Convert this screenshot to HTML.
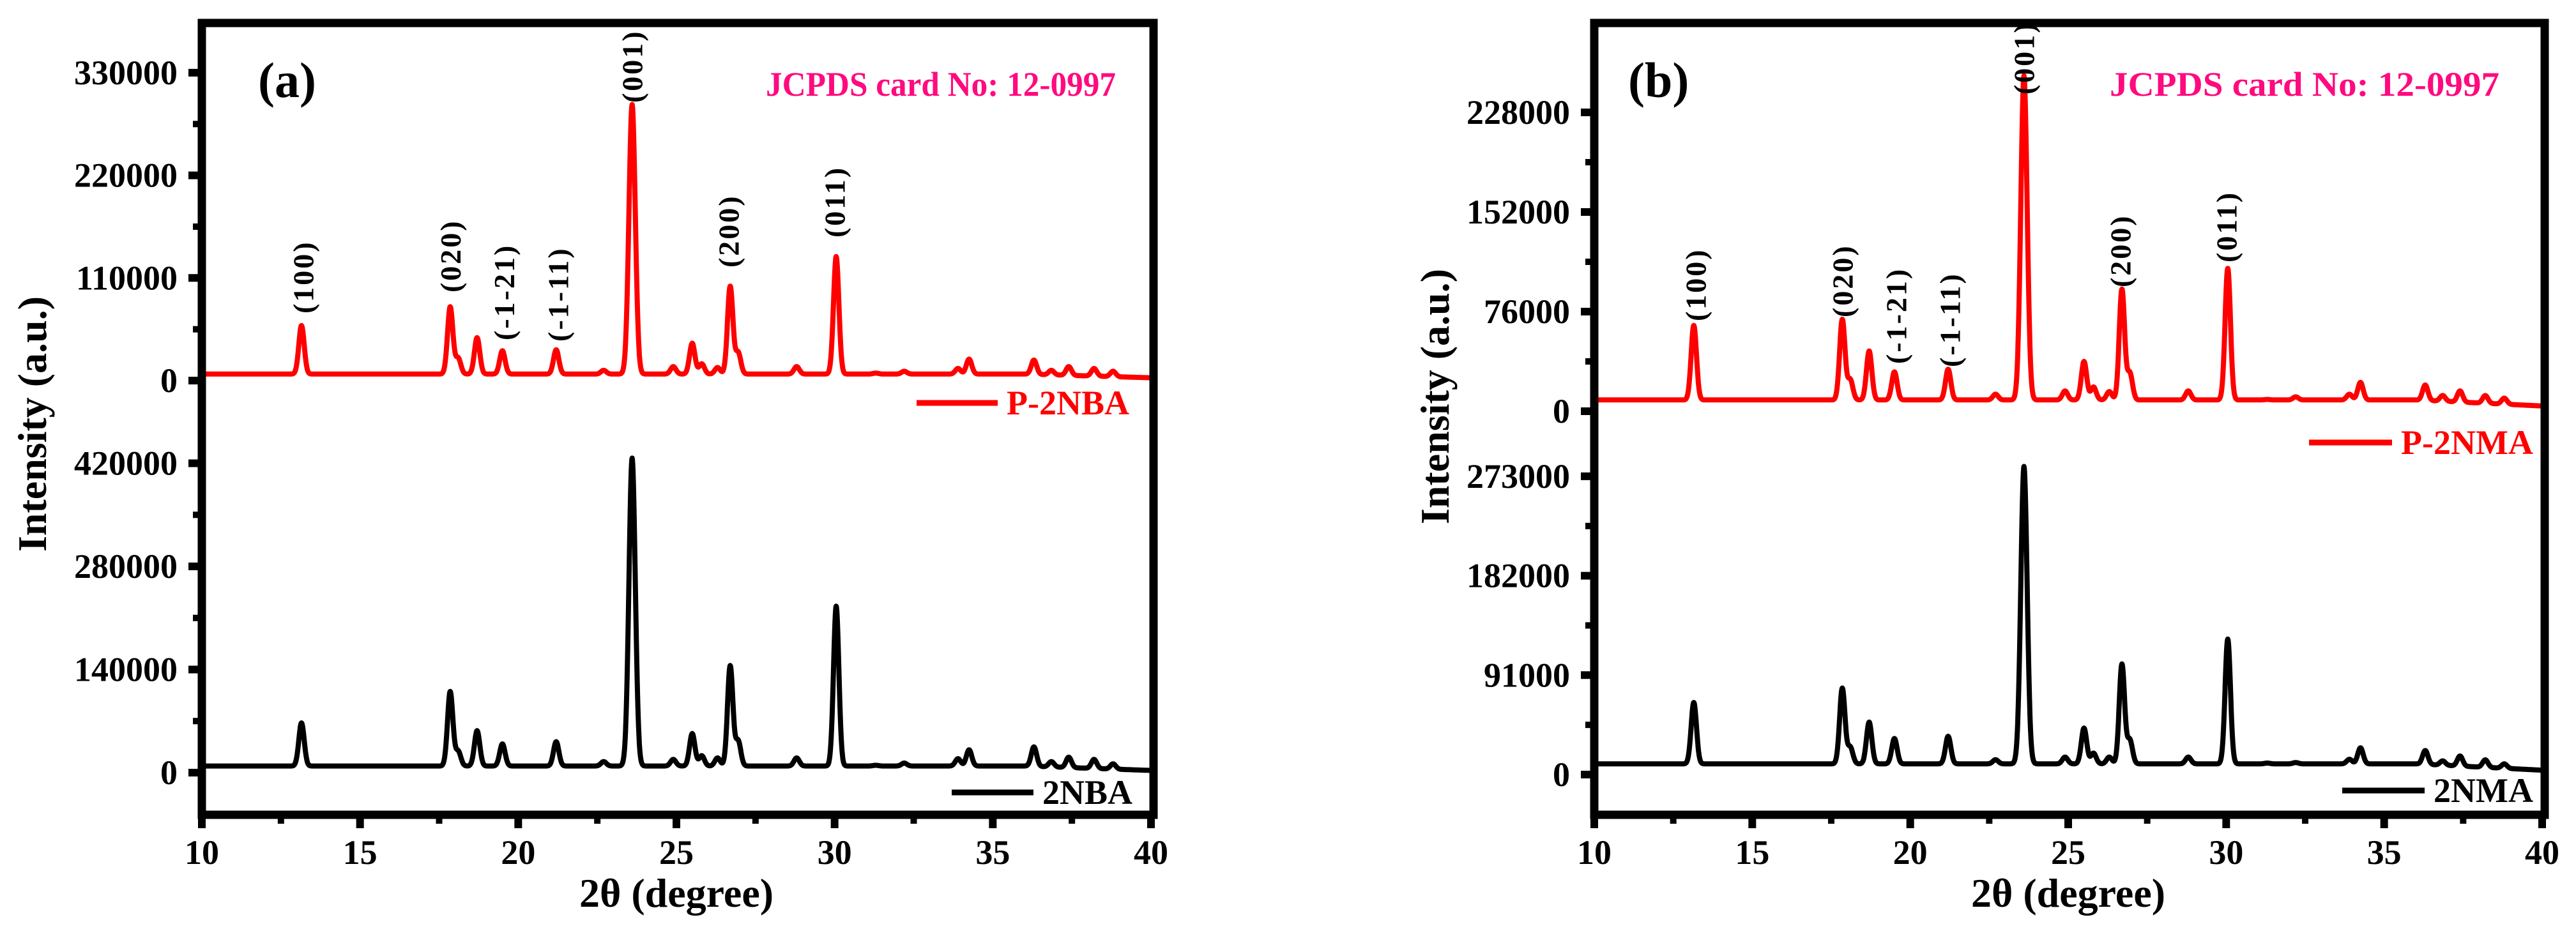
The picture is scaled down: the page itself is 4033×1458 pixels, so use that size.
<!DOCTYPE html>
<html><head><meta charset="utf-8"><style>
html,body{margin:0;padding:0;background:#fff;}
svg{display:block;}
text{font-family:"Liberation Serif",serif;font-weight:bold;}
</style></head><body>
<svg id="chart" width="4033" height="1458" viewBox="0 0 4033 1458" xmlns="http://www.w3.org/2000/svg"></svg>
<script>
// ---- data (peak positions in 2θ, intensity counts) ----
const peakPos = [13.15,17.85,18.1,18.7,19.5,21.2,22.7,23.6,24.9,25.5,25.8,26.3,26.7,26.95,28.8,30.05,31.3,32.2,33.9,34.25,36.3,36.85,37.4,38.2,38.8];
const p2nbaPeaks = [59000,79000,24000,46000,32000,33000,11000,296000,15000,40000,18000,14000,101000,30000,15000,133000,8000,10000,13000,23000,22000,11000,15000,13000,10000];
const p2nbaBase = [7000,3000];
const nbaPeaks = [67500,110000,29000,57000,39000,42000,15000,427000,18000,53000,23000,20000,145000,43000,20000,226000,10000,13000,19000,31000,35000,15000,21000,18000,12000];
const nbaBase = [9000,3000];
const p2nmaPeaks = [65500,70000,24000,46000,30000,32000,13000,256000,15500,38000,18500,15000,93000,29000,15500,109000,9000,11000,13000,22000,20000,12000,15500,12000,10000];
const p2nmaBase = [8600,4000];
const nmaPeaks = [66000,79000,25000,48000,33000,35000,13600,282000,16000,42500,19600,16000,101000,31600,16000,124000,10500,11000,14000,24500,22000,12500,17000,13500,9800];
const nmaBase = [9800,4000];
const xTicks = [10,15,20,25,30,35,40];
const aTopTicks = [0,110000,220000,330000];
const aBotTicks = [0,140000,280000,420000];
const bTopTicks = [0,76000,152000,228000];
const bBotTicks = [0,91000,182000,273000];
const millerLabels = ["(100)","(020)","(-1-21)","(-1-11)","(001)","(200)","(011)"];
const millerPos = [13.2,17.85,19.55,21.25,23.6,26.65,30.0];
const aMillerBottom = [491,458,533,535,161,419,372];
const bMillerBottom = [503,497,570,575,148,450,411];

const NS="http://www.w3.org/2000/svg";
const svg=document.getElementById('chart');
function el(tag,attrs,parent){const e=document.createElementNS(NS,tag);for(const k in attrs)e.setAttribute(k,attrs[k]);(parent||svg).appendChild(e);return e;}

function panel(cfg){
  const g=el('g',{});
  
  
  const xs=v=>cfg.x0+(v-10)*(cfg.x1-cfg.x0)/30;
  const yT=v=>cfg.topZero-v*cfg.topScale;
  const yB=v=>cfg.botZero-v*cfg.botScale;
  function series(peaks,base,ys,color,name){
    let d='';
    for(let x=10;x<=40.0001;x+=0.01){
      const b=base[0]+(base[1]-base[0])*Math.max(0,(x-36)/4);
      let v=b;
      for(let i=0;i<peakPos.length;i++){
        const w=(peakPos[i]===23.6)?0.1:0.085;
        const dx=(x-peakPos[i])/w;
        v+=(peaks[i]-b)*Math.exp(-0.5*dx*dx);
      }
      d+=(d?'L':'M')+xs(x).toFixed(1)+','+ys(v).toFixed(1);
    }
    const p=el('path',{d:d,fill:'none',stroke:color,'stroke-width':8,'stroke-linejoin':'round'},g);
    
    
  }
  series(cfg.topPeaks,cfg.topBase,yT,'#ff0000',cfg.topName+'-line');
  series(cfg.botPeaks,cfg.botBase,yB,'#000000',cfg.botName+'-line');
  const fr=el('rect',{x:cfg.x0,y:36,width:cfg.x1-cfg.x0+4,height:1276-36,fill:'none',stroke:'#000','stroke-width':13},g);
  
  
  xTicks.forEach(t=>{
    el('line',{x1:xs(t),x2:xs(t),y1:1276,y2:1297,stroke:'#000','stroke-width':12},g);
    const tx=el('text',{x:xs(t),y:1353,'font-size':54,'text-anchor':'middle'},g);
    tx.textContent=t;
    
    
    if(t<40) el('line',{x1:xs(t+2.5),x2:xs(t+2.5),y1:1276,y2:1290,stroke:'#000','stroke-width':10},g);
  });
  function yTicks(ticks,ys){
    ticks.forEach((t,i)=>{
      el('line',{x1:cfg.x0-21,x2:cfg.x0,y1:ys(t),y2:ys(t),stroke:'#000','stroke-width':12},g);
      const tx=el('text',{x:cfg.x0-38,y:ys(t)+18,'font-size':54,'text-anchor':'end'},g);
      tx.textContent=t;
      
      
      if(i<ticks.length-1){const m=(t+ticks[i+1])/2;el('line',{x1:cfg.x0-14,x2:cfg.x0,y1:ys(m),y2:ys(m),stroke:'#000','stroke-width':10},g);}
    });
  }
  yTicks(cfg.topTicks,yT);
  yTicks(cfg.botTicks,yB);
  millerLabels.forEach((m,i)=>{
    const x=xs(millerPos[i])+16, y=cfg.millerBottom[i];
    const t=el('text',{x:x,y:y,'font-size':46,transform:`rotate(-90 ${x} ${y})`,'letter-spacing':3},g);
    t.textContent=m;
    
    
  });
  const pl=el('text',{x:cfg.letterX,y:152,'font-size':78},g);
  pl.textContent=cfg.letter;
  
  
  const jc=el('text',{x:cfg.jcX,y:150,'font-size':54,fill:'#ff0a7f','font-family':'Liberation Sans, sans-serif',textLength:cfg.jcW,lengthAdjust:'spacingAndGlyphs'},g);
  jc.textContent='JCPDS card No: 12-0997';
  
  
  function legend(lx1,lx2,ly,color,label,name){
    const lg=el('g',{},g);
    
    
    el('line',{x1:lx1,x2:lx2,y1:ly,y2:ly,stroke:color,'stroke-width':9},lg);
    const t=el('text',{x:lx2+14,y:ly+18,'font-size':54,fill:color},lg);
    t.textContent=label;
  }
  legend(cfg.leg1[0],cfg.leg1[1],cfg.leg1[2],'#ff0000',cfg.topName,'legend-entry-'+cfg.topName.toLowerCase());
  legend(cfg.leg2[0],cfg.leg2[1],cfg.leg2[2],'#000000',cfg.botName,'legend-entry-'+cfg.botName.toLowerCase());
  const xt=el('text',{x:(cfg.x0+cfg.x1)/2,y:1420,'font-size':64,'text-anchor':'middle'},g);
  xt.textContent='2θ (degree)';
  
  
  const yx=cfg.yTitleX, yy=cfg.yTitleY;
  const yt=el('text',{x:yx,y:yy,'font-size':64,'text-anchor':'middle',transform:`rotate(-90 ${yx} ${yy})`},g);
  yt.textContent='Intensity (a.u.)';
  
  
}

panel({name:'panel-a',x0:316,x1:1802,topZero:596,topScale:160.7/110000,botZero:1210,botScale:161.5/140000,
  topPeaks:p2nbaPeaks,topBase:p2nbaBase,botPeaks:nbaPeaks,botBase:nbaBase,topName:'P-2NBA',botName:'2NBA',
  topTicks:aTopTicks,botTicks:aBotTicks,millerBottom:aMillerBottom,letter:'(a)',letterX:404,jcX:1199,jcW:548,
  leg1:[1435,1562,631],leg2:[1490,1618,1241],yTitleX:72,yTitleY:664});
panel({name:'panel-b',x0:2496,x1:3980,topZero:644,topScale:156/76000,botZero:1213,botScale:155.7/91000,
  topPeaks:p2nmaPeaks,topBase:p2nmaBase,botPeaks:nmaPeaks,botBase:nmaBase,topName:'P-2NMA',botName:'2NMA',
  topTicks:bTopTicks,botTicks:bBotTicks,millerBottom:bMillerBottom,letter:'(b)',letterX:2549,jcX:3303,jcW:610,
  leg1:[3615,3745,693],leg2:[3667,3796,1238],yTitleX:2268,yTitleY:621});
</script>
</body></html>
